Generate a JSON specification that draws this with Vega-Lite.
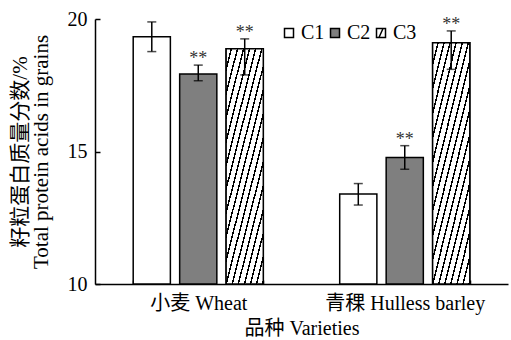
{
  "$schema": "https://vega.github.io/schema/vega-lite/v6.json",
  "width": 413,
  "height": 265,
  "autosize": {"type": "none"},
  "padding": {"left": 95, "top": 19, "right": 3, "bottom": 56},
  "background": "white",
  "config": {
    "view": {"stroke": null},
    "font": "Liberation Serif, Noto Sans CJK SC",
    "axis": {
      "domainColor": "black",
      "domainWidth": 1.5,
      "tickColor": "black",
      "tickWidth": 1.5,
      "grid": false,
      "labelColor": "black",
      "titleColor": "black",
      "labelFont": "Liberation Serif, Noto Sans CJK SC",
      "titleFont": "Liberation Serif, Noto Sans CJK SC",
      "titleFontWeight": "normal"
    }
  },
  "data": {
    "values": [
      {"variety": "小麦 Wheat", "cond": "C1", "value": 19.33, "lo": 18.77, "hi": 19.89, "sig": ""},
      {"variety": "小麦 Wheat", "cond": "C2", "value": 17.92, "lo": 17.67, "hi": 18.26, "sig": "**"},
      {"variety": "小麦 Wheat", "cond": "C3", "value": 18.88, "lo": 17.89, "hi": 19.25, "sig": "**"},
      {"variety": "青稞 Hulless barley", "cond": "C1", "value": 13.40, "lo": 12.98, "hi": 13.79, "sig": ""},
      {"variety": "青稞 Hulless barley", "cond": "C2", "value": 14.77, "lo": 14.33, "hi": 15.22, "sig": "**"},
      {"variety": "青稞 Hulless barley", "cond": "C3", "value": 19.10, "lo": 18.10, "hi": 19.55, "sig": "**"}
    ]
  },
  "encoding": {
    "x": {
      "field": "variety",
      "type": "nominal",
      "sort": ["小麦 Wheat", "青稞 Hulless barley"],
      "scale": {"paddingInner": 0.37, "paddingOuter": 0.185},
      "title": "品种 Varieties",
      "axis": {
        "labelAngle": 0,
        "tickBand": "extent",
        "tickSize": -4,
        "labelPadding": 13,
        "labelFontSize": 20,
        "titleFontSize": 20,
        "titlePadding": 5
      }
    },
    "xOffset": {
      "field": "cond",
      "type": "nominal",
      "sort": ["C1", "C2", "C3"],
      "scale": {"paddingInner": 0.2, "paddingOuter": 0}
    }
  },
  "layer": [
    {
      "mark": {"type": "bar", "stroke": "black", "strokeWidth": 1.5},
      "encoding": {
        "y": {
          "field": "value",
          "type": "quantitative",
          "scale": {"domain": [10, 20], "zero": false, "nice": false},
          "title": ["籽粒蛋白质量分数/%", "Total protein acids in grains"],
          "axis": {
            "values": [10, 15, 20],
            "tickSize": -5,
            "labelPadding": 13,
            "labelFontSize": 20,
            "titleFontSize": 21,
            "titleLineHeight": 21,
            "titlePadding": 16
          }
        },
        "y2": {"datum": 10},
        "color": {
          "field": "cond",
          "type": "nominal",
          "scale": {"domain": ["C1", "C2", "C3"], "range": ["white", "#7f7f7f", "white"]},
          "legend": {
            "title": null,
            "orient": "none",
            "legendX": 184,
            "legendY": 4,
            "direction": "horizontal",
            "symbolType": "square",
            "symbolSize": 81,
            "symbolStrokeColor": "black",
            "symbolStrokeWidth": 1.5,
            "symbolOpacity": 1,
            "labelFontSize": 20,
            "labelFont": "Liberation Serif",
            "labelColor": "black",
            "labelOffset": 2,
            "columnPadding": 0,
            "encode": {
              "symbols": {
                "update": {
                  "shape": {"signal": "datum.value === 'C3' ? 'M-1,-1H1V1H-1Z M-0.45,1L0.45,-1' : 'square'"}
                }
              }
            }
          }
        }
      }
    },
    {
      "transform": [{"filter": "datum.cond === 'C3'"}],
      "mark": {
        "type": "bar",
        "stroke": "black",
        "strokeWidth": 1.5,
        "fill": {
          "gradient": "linear",
          "x1": 0, "y1": 0, "x2": 0.727, "y2": 1.17,
          "stops": [
            {"offset": 0, "color": "white"}, {"offset": 0.047, "color": "white"}, {"offset": 0.047, "color": "black"}, {"offset": 0.0625, "color": "black"},
            {"offset": 0.0625, "color": "white"}, {"offset": 0.1095, "color": "white"}, {"offset": 0.1095, "color": "black"}, {"offset": 0.125, "color": "black"},
            {"offset": 0.125, "color": "white"}, {"offset": 0.172, "color": "white"}, {"offset": 0.172, "color": "black"}, {"offset": 0.1875, "color": "black"},
            {"offset": 0.1875, "color": "white"}, {"offset": 0.2345, "color": "white"}, {"offset": 0.2345, "color": "black"}, {"offset": 0.25, "color": "black"},
            {"offset": 0.25, "color": "white"}, {"offset": 0.297, "color": "white"}, {"offset": 0.297, "color": "black"}, {"offset": 0.3125, "color": "black"},
            {"offset": 0.3125, "color": "white"}, {"offset": 0.3595, "color": "white"}, {"offset": 0.3595, "color": "black"}, {"offset": 0.375, "color": "black"},
            {"offset": 0.375, "color": "white"}, {"offset": 0.422, "color": "white"}, {"offset": 0.422, "color": "black"}, {"offset": 0.4375, "color": "black"},
            {"offset": 0.4375, "color": "white"}, {"offset": 0.4845, "color": "white"}, {"offset": 0.4845, "color": "black"}, {"offset": 0.5, "color": "black"},
            {"offset": 0.5, "color": "white"}, {"offset": 0.547, "color": "white"}, {"offset": 0.547, "color": "black"}, {"offset": 0.5625, "color": "black"},
            {"offset": 0.5625, "color": "white"}, {"offset": 0.6095, "color": "white"}, {"offset": 0.6095, "color": "black"}, {"offset": 0.625, "color": "black"},
            {"offset": 0.625, "color": "white"}, {"offset": 0.672, "color": "white"}, {"offset": 0.672, "color": "black"}, {"offset": 0.6875, "color": "black"},
            {"offset": 0.6875, "color": "white"}, {"offset": 0.7345, "color": "white"}, {"offset": 0.7345, "color": "black"}, {"offset": 0.75, "color": "black"},
            {"offset": 0.75, "color": "white"}, {"offset": 0.797, "color": "white"}, {"offset": 0.797, "color": "black"}, {"offset": 0.8125, "color": "black"},
            {"offset": 0.8125, "color": "white"}, {"offset": 0.8595, "color": "white"}, {"offset": 0.8595, "color": "black"}, {"offset": 0.875, "color": "black"},
            {"offset": 0.875, "color": "white"}, {"offset": 0.922, "color": "white"}, {"offset": 0.922, "color": "black"}, {"offset": 0.9375, "color": "black"},
            {"offset": 0.9375, "color": "white"}, {"offset": 0.9845, "color": "white"}, {"offset": 0.9845, "color": "black"}, {"offset": 1, "color": "black"}
          ]
        }
      },
      "encoding": {
        "y": {"field": "value", "type": "quantitative"},
        "y2": {"datum": 10}
      }
    },
    {
      "mark": {"type": "rule", "color": "black", "strokeWidth": 1.5},
      "encoding": {
        "y": {"field": "lo", "type": "quantitative"},
        "y2": {"field": "hi"}
      }
    },
    {
      "mark": {"type": "tick", "color": "black", "size": 9, "thickness": 1.5, "orient": "horizontal"},
      "encoding": {"y": {"field": "hi", "type": "quantitative"}}
    },
    {
      "mark": {"type": "tick", "color": "black", "size": 9, "thickness": 1.5, "orient": "horizontal"},
      "encoding": {"y": {"field": "lo", "type": "quantitative"}}
    },
    {
      "mark": {"type": "text", "font": "Liberation Serif", "fontSize": 18, "color": "#333", "baseline": "alphabetic", "dy": -1},
      "encoding": {
        "y": {"field": "hi", "type": "quantitative"},
        "text": {"field": "sig"}
      }
    }
  ]
}
